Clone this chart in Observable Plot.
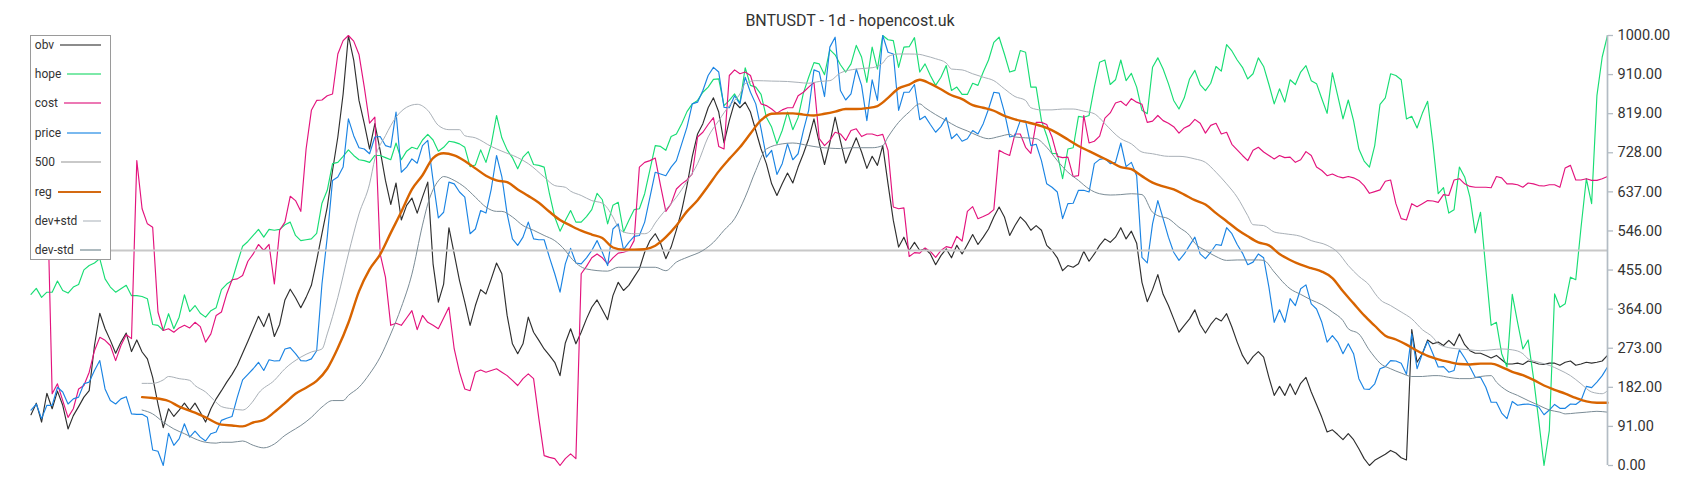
<!DOCTYPE html>
<html><head><meta charset="utf-8">
<script src="https://cdn.jsdelivr.net/npm/d3@7"></script>
<script src="https://cdn.jsdelivr.net/npm/@observablehq/plot@0.6"></script>
<style>
body{margin:0;background:#fff;font-family:Roboto,"Noto Sans",sans-serif;}
#wrap{position:relative;width:1700px;height:500px;overflow:hidden;background:#fff}
#chart{position:absolute;left:0;top:0}
#title{position:absolute;left:0;top:11px;width:1700px;text-align:center;font-size:16px;line-height:20px;color:#333}
#legend{position:absolute;left:29.5px;top:34.5px;width:81px;height:225px;box-sizing:border-box;border:1.5px solid #9a9a9a;background:#fff}
.row{position:absolute;left:4.3px;right:8.3px;height:16px;display:flex;align-items:center;font-size:12px;color:#333;white-space:nowrap}
.row .sw{flex:1;margin-left:6px;height:0;border-top:2px solid #999}
</style></head>
<body>
<div id="wrap">
  <div id="chart"></div>
  <div id="title">BNTUSDT - 1d - hopencost.uk</div>
  <div id="legend"></div>
</div>
<script>
// ---- data (values normalised 0..1000, one value per day) ----
const obv = [
118,145,101,168,132,173,140,85,116,137,
159,174,279,354,318,291,261,287,308,265,
292,264,248,205,143,88,132,114,129,145,
128,145,124,101,132,155,174,194,212,233,
261,289,318,347,323,354,300,328,385,410,
390,367,391,419,477,539,601,686,764,864,
1000,943,849,795,736,795,733,663,607,657,
571,605,622,587,624,659,469,380,422,553,
492,430,380,326,372,409,399,434,471,446,
349,283,260,283,345,310,291,271,256,240,
209,285,318,283,310,341,368,385,362,339,
395,426,407,419,438,457,496,523,539,517,
481,508,548,593,651,719,771,795,832,855,
822,750,802,845,832,845,822,779,736,702,
655,628,655,680,657,694,725,760,806,750,
700,750,810,755,703,733,762,729,691,719,
698,744,655,570,508,531,500,519,500,504,
492,467,488,504,483,512,492,514,537,514,
531,550,578,601,578,535,558,578,566,547,
558,547,512,500,483,453,465,461,469,498,
475,492,512,527,519,531,553,527,545,517,
426,381,409,444,398,372,341,310,326,341,
362,328,308,328,343,336,353,322,287,256,
236,253,265,252,205,163,184,163,190,165,
191,205,171,142,112,78,83,72,60,74,
60,39,16,0,12,19,26,35,29,18,
13,316,240,260,292,283,287,279,291,279,
306,281,267,261,261,256,250,256,246,236,
236,238,235,243,240,236,235,238,238,233,
240,243,233,236,240,238,240,243,256];

const hope = [
398,412,391,403,403,429,407,401,415,421,
455,465,471,481,434,415,403,411,419,395,
395,393,388,328,326,314,353,318,345,397,
358,372,354,345,360,367,409,422,430,471,
510,521,535,549,531,549,547,549,560,566,
535,523,525,527,540,610,640,702,705,719,
734,721,711,709,705,721,721,716,711,750,
711,731,740,736,757,770,757,731,740,754,
752,748,740,695,699,734,705,747,814,762,
734,716,690,717,730,700,698,694,632,578,
545,570,593,566,566,579,595,633,618,562,
605,612,543,570,595,597,632,688,744,742,
733,765,771,795,823,841,849,868,880,898,
899,837,849,864,843,925,884,880,863,810,
787,748,779,822,781,809,866,903,937,934,
909,967,955,932,915,934,977,950,891,973,
922,1000,990,988,926,973,974,995,915,934,
907,884,903,930,872,880,863,863,889,884,
915,943,984,996,957,915,919,965,961,880,
880,802,767,726,725,667,736,739,812,810,
814,880,938,943,886,897,943,895,912,880,
826,818,926,948,922,888,849,829,855,899,
919,886,872,889,928,917,979,964,943,926,
899,911,948,928,886,841,876,845,897,886,
915,930,895,888,853,819,913,860,806,850,
802,736,708,694,744,840,855,911,907,897,
806,812,785,819,847,748,632,646,587,595,
694,671,624,541,589,457,326,333,260,229,
398,333,271,292,205,105,0,81,399,368,
376,438,432,554,667,609,860,950,1000];

const cost = [
620,640,660,680,167,190,151,112,132,178,
186,217,267,298,291,279,244,279,304,295,
709,597,562,554,357,314,318,310,320,326,
320,333,323,287,306,349,357,399,432,434,
442,475,492,514,500,514,422,547,566,626,
616,591,736,826,849,850,860,864,957,988,
1000,987,956,880,796,810,492,438,326,331,
326,343,360,316,349,333,326,318,343,368,
271,217,178,174,217,222,217,221,225,217,
209,198,186,202,213,202,109,23,19,16,
0,16,27,16,446,463,483,492,483,469,
483,494,496,500,523,694,705,709,715,651,
591,609,643,655,664,678,764,775,793,809,
742,736,907,920,911,915,907,868,841,837,
829,819,827,832,832,860,868,880,891,760,
744,756,775,771,756,779,783,765,771,771,
767,770,733,601,597,599,486,495,494,506,
498,484,500,509,506,533,522,591,602,574,
579,585,595,733,726,721,771,771,740,726,
798,798,793,764,719,716,717,672,674,814,
750,754,766,808,820,843,847,837,853,845,
840,798,801,814,802,796,788,773,785,791,
805,796,773,791,796,771,775,747,734,721,
709,733,740,729,721,713,721,716,717,705,
711,730,721,694,686,674,678,672,669,672,
669,663,651,633,637,641,661,664,609,574,
571,609,602,609,616,615,612,630,628,664,
667,655,649,647,647,647,646,672,669,655,
655,653,647,657,655,651,650,653,653,647,
692,698,664,664,667,663,663,667,672];

const price = [
129,143,109,140,140,182,171,143,155,159,
190,194,221,244,178,151,143,155,160,120,
119,119,112,36,33,0,75,47,62,97,
66,80,66,57,74,78,105,110,114,159,
199,212,225,240,221,246,243,244,271,274,
260,244,243,248,267,422,531,663,671,694,
806,767,739,736,725,764,765,744,740,822,
682,694,713,703,744,756,663,576,589,659,
655,636,624,539,550,593,587,643,721,672,
585,527,512,531,566,527,525,525,484,446,
403,469,505,471,469,483,500,523,496,465,
550,562,502,519,533,535,566,624,682,678,
674,694,709,748,787,841,845,872,907,926,
915,833,832,860,841,903,868,841,783,717,
733,677,702,748,711,725,779,826,920,915,
858,973,996,872,850,864,922,884,802,897,
849,1000,961,957,826,868,868,886,804,812,
793,775,788,809,760,771,754,760,779,771,
795,829,868,866,822,764,767,802,801,744,
747,709,655,647,636,574,609,610,640,640,
636,702,712,714,702,705,750,695,705,674,
484,471,562,616,574,531,496,477,492,512,
531,492,481,496,514,512,553,539,514,494,
467,473,492,483,415,333,362,333,388,372,
411,420,376,364,333,287,302,287,260,283,
260,202,178,177,190,225,230,244,243,238,
212,306,225,260,289,260,229,230,217,221,
269,250,229,205,205,182,147,147,122,109,
149,140,142,143,140,136,118,129,142,133,
133,143,142,151,184,181,194,209,229];

const level500 = 500;

// smooth series: [day, value]
const reg = [[21,159],[23,157],[26,150],[28,137],[31,123],[33,112],[36,95],[38,93],[40,91],[42,100],[44,106],[46,124],[48,145],[50,167],[52,181],[54,197],[56,225],[58,273],[60,332],[62,405],[64,456],[66,491],[68,541],[70,590],[72,642],[74,675],[76,715],[78,726],[80,721],[82,708],[84,691],[86,674],[88,663],[90,659],[92,642],[94,627],[96,611],[98,590],[100,571],[102,558],[104,546],[106,537],[108,529],[110,507],[112,502],[114,502],[116,503],[118,511],[120,531],[122,558],[124,591],[126,617],[128,650],[130,684],[132,713],[134,740],[136,772],[138,803],[140,818],[142,819],[144,819],[146,816],[148,814],[150,818],[152,823],[154,829],[156,829],[158,831],[160,836],[162,855],[164,877],[166,886],[168,897],[170,888],[172,875],[174,861],[176,852],[178,838],[180,832],[182,825],[184,813],[186,805],[188,799],[190,793],[192,785],[194,773],[196,758],[198,743],[200,731],[202,719],[204,707],[206,694],[208,689],[210,673],[212,658],[214,649],[216,642],[218,630],[220,617],[222,607],[224,587],[226,568],[228,549],[230,533],[232,519],[234,512],[236,492],[238,478],[240,467],[242,459],[244,451],[246,436],[248,405],[250,377],[252,349],[254,325],[256,302],[258,293],[260,281],[262,267],[264,255],[266,247],[268,241],[270,236],[272,235],[274,237],[276,237],[278,229],[280,218],[282,210],[284,199],[286,186],[288,176],[290,167],[292,157],[294,149],[296,146],[298,146]];

const devPlus = [[21,191],[23,191],[25,199],[26,207],[28,202],[30,198],[31,186],[33,171],[35,147],[36,137],[38,132],[40,129],[42,150],[43,168],[46,198],[48,225],[51,252],[53,264],[55,271],[56,306],[58,391],[60,492],[62,585],[64,655],[65,713],[67,767],[69,810],[71,833],[73,840],[75,826],[77,791],[79,781],[81,781],[82,767],[84,762],[87,742],[89,731],[92,716],[94,702],[97,671],[99,651],[101,647],[102,638],[104,628],[106,616],[108,610],[110,578],[111,554],[112,543],[114,539],[116,539],[117,545],[118,564],[120,595],[122,624],[124,661],[126,702],[128,764],[130,802],[132,837],[134,864],[135,888],[137,895],[140,894],[143,893],[145,891],[147,889],[149,893],[151,895],[153,913],[156,922],[159,925],[161,936],[162,951],[164,957],[166,957],[168,956],[169,953],[171,946],[173,936],[174,922],[176,920],[178,911],[180,903],[182,895],[184,876],[186,858],[188,849],[189,832],[191,827],[193,827],[195,829],[197,829],[199,824],[201,818],[202,808],[203,795],[206,760],[208,748],[210,729],[212,725],[215,719],[217,719],[220,713],[222,705],[224,682],[226,655],[228,624],[230,581],[231,560],[233,558],[235,543],[237,539],[240,533],[242,523],[245,512],[247,496],[249,465],[251,440],[253,419],[254,401],[255,386],[257,372],[259,357],[261,341],[263,316],[265,298],[266,283],[268,274],[270,271],[272,269],[274,267],[276,269],[278,271],[280,269],[282,260],[283,248],[285,240],[287,233],[289,222],[291,209],[293,190],[295,171],[297,167],[298,174]];

const devMinus = [[21,129],[23,120],[25,101],[27,85],[29,74],[31,62],[33,54],[35,52],[36,54],[38,54],[40,57],[42,47],[44,41],[46,50],[48,70],[49,78],[51,93],[53,112],[55,136],[57,151],[59,151],[60,163],[62,182],[64,213],[66,252],[68,306],[70,368],[72,445],[74,559],[75,608],[77,662],[78,672],[80,663],[82,647],[84,624],[86,601],[88,591],[89,591],[91,578],[93,558],[95,547],[97,535],[99,523],[101,500],[102,484],[105,457],[109,452],[111,461],[115,461],[118,461],[120,453],[122,473],[124,484],[127,500],[129,519],[131,547],[133,574],[135,624],[137,686],[139,736],[142,748],[144,750],[147,744],[149,740],[151,738],[153,737],[155,739],[159,739],[161,744],[162,764],[164,798],[166,822],[168,841],[169,832],[171,816],[173,802],[175,788],[177,778],[179,767],[181,760],[183,765],[185,770],[186,764],[188,762],[190,760],[192,740],[194,709],[196,682],[198,663],[200,643],[202,632],[204,629],[206,630],[208,632],[210,630],[212,589],[213,581],[215,574],[217,554],[219,535],[220,517],[222,500],[224,486],[226,477],[228,478],[230,478],[232,478],[233,477],[235,450],[237,422],[238,411],[240,398],[242,385],[244,374],[246,357],[248,337],[249,318],[251,306],[253,268],[254,252],[255,238],[257,225],[259,215],[261,207],[263,207],[265,209],[266,209],[268,205],[270,202],[272,202],[274,207],[276,209],[277,194],[279,174],[281,163],[283,151],[285,140],[287,129],[289,124],[290,120],[292,122],[294,124],[296,126],[298,124]];

const yTickValues = [0, 90.909, 181.818, 272.727, 363.636, 454.545, 545.455, 636.364, 727.273, 818.182, 909.091, 1000];
const yTickLabels = ["0.00","91.00","182.00","273.00","364.00","455.00","546.00","637.00","728.00","819.00","910.00","1000.00"];

const legendItems = [
  {name:"obv", color:"#8c8c8c", w:2},
  {name:"hope", color:"#7de9a9", w:2},
  {name:"cost", color:"#ec78b4", w:2},
  {name:"price", color:"#7ab9ef", w:2},
  {name:"500", color:"#c9c9c9", w:2},
  {name:"reg", color:"#d46a12", w:2.5},
  {name:"dev+std", color:"#d3d7db", w:2},
  {name:"dev-std", color:"#adbabf", w:2}
];

// ---- chart ----
const lastDay = obv.length - 1;
const daily = arr => arr.map((v, i) => ({d: i, v}));
const pairs = arr => arr.map(([d, v]) => ({d, v}));

const chart = Plot.plot({
  width: 1700,
  height: 500,
  marginLeft: 30.5,
  marginRight: 93,
  marginTop: 35,
  marginBottom: 35,
  style: {fontFamily: "Roboto, sans-serif", fontSize: "14.5px", color: "#333", background: "transparent", overflow: "visible"},
  x: {domain: [0, lastDay], axis: null},
  y: {domain: [0, 1000]},
  marks: [
    Plot.line(daily(obv), {x: "d", y: "v", stroke: "#2f2f2f", strokeWidth: 1.15}),
    Plot.line(daily(hope), {x: "d", y: "v", stroke: "#18dd74", strokeWidth: 1.15}),
    Plot.line(daily(cost), {x: "d", y: "v", stroke: "#e3137d", strokeWidth: 1.15}),
    Plot.line(daily(price), {x: "d", y: "v", stroke: "#1b84e3", strokeWidth: 1.15}),
    Plot.ruleY([level500], {stroke: "#c8c8c8", strokeWidth: 2}),
    Plot.line(pairs(reg), {x: "d", y: "v", stroke: "#d86400", strokeWidth: 2.4, curve: "monotone-x"}),
    Plot.line(pairs(devPlus), {x: "d", y: "v", stroke: "#a9b0b7", strokeWidth: 1, curve: "monotone-x"}),
    Plot.line(pairs(devMinus), {x: "d", y: "v", stroke: "#7b8c96", strokeWidth: 1, curve: "monotone-x"}),
    Plot.ruleX([lastDay], {stroke: "#b3bcc4", strokeWidth: 1.7}),
    Plot.axisY(yTickValues, {
      anchor: "right",
      tickFormat: d => yTickLabels[yTickValues.indexOf(d)],
      tickSize: 5,
      tickPadding: 5,
      stroke: "#b3bcc4",
      strokeWidth: 1.3,
      fill: "#333",
      fontSize: 14.5,
      label: null
    })
  ]
});
document.getElementById("chart").appendChild(chart);

// ---- legend (HTML overlay) ----
const legend = document.getElementById("legend");
legendItems.forEach((it, i) => {
  const row = document.createElement("div");
  row.className = "row";
  row.style.top = (1 + i * 29.4) + "px";
  const t = document.createElement("span");
  t.textContent = it.name;
  const sw = document.createElement("div");
  sw.className = "sw";
  sw.style.borderTopColor = it.color;
  sw.style.borderTopWidth = it.w + "px";
  row.appendChild(t);
  row.appendChild(sw);
  legend.appendChild(row);
});
</script>
</body></html>
